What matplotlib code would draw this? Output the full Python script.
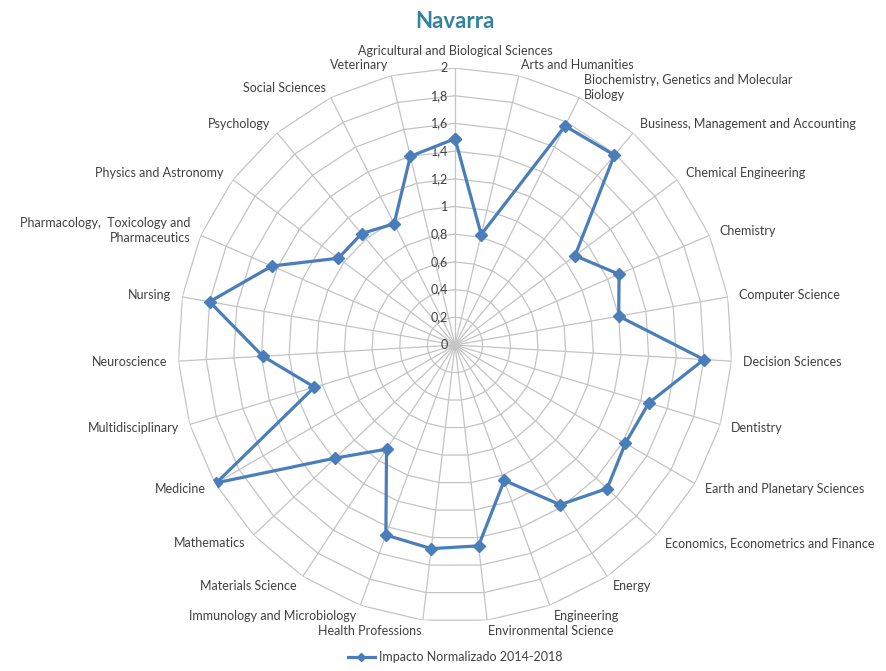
import matplotlib
matplotlib.use("Agg")
import matplotlib.pyplot as plt
import numpy as np

categories = [
    "Agricultural and Biological Sciences",
    "Arts and Humanities",
    "Biochemistry, Genetics and Molecular\nBiology",
    "Business, Management and Accounting",
    "Chemical Engineering",
    "Chemistry",
    "Computer Science",
    "Decision Sciences",
    "Dentistry",
    "Earth and Planetary Sciences",
    "Economics, Econometrics and Finance",
    "Energy",
    "Engineering",
    "Environmental Science",
    "Health Professions",
    "Immunology and Microbiology",
    "Materials Science",
    "Mathematics",
    "Medicine",
    "Multidisciplinary",
    "Neuroscience",
    "Nursing",
    "Pharmacology,  Toxicology and\nPharmaceutics",
    "Physics and Astronomy",
    "Psychology",
    "Social Sciences",
    "Veterinary",
]
impacto = [1.49, 0.82, 1.77, 1.79, 1.08, 1.29, 1.20, 1.80, 1.46, 1.42,
           1.51, 1.38, 1.04, 1.46, 1.48, 1.46, 0.90, 1.19, 1.99, 1.06,
           1.39, 1.80, 1.44, 1.05, 1.05, 0.98, 1.40]
ticks = [0, 0.2, 0.4, 0.6, 0.8, 1, 1.2, 1.4, 1.6, 1.8, 2]
tick_labels = ["0", "0,2", "0,4", "0,6", "0,8", "1", "1,2", "1,4", "1,6", "1,8", "2"]
series_name = "Impacto Normalizado 2014-2018"

plt.rcParams["font.family"] = ["Lato", "DejaVu Sans"]

n = len(categories)
theta = np.arange(n) * 2 * np.pi / n

fig = plt.figure(figsize=(8.87, 6.71), dpi=100)
ax = fig.add_axes([0.2007, 0.073, 0.6246, 0.8256], projection="polar")
ax.set_theta_zero_location("N")
ax.set_theta_direction(-1)
ax.set_ylim(0, 2)
ax.grid(False)
ax.spines["polar"].set_visible(False)
ax.set_xticks([])
ax.set_yticks([])

grid_col = "#c4c4c4"
# polygon rings (Excel style radar grid)
ring_theta = np.append(theta, theta[0])
for t in ticks[1:]:
    ax.plot(ring_theta, [t] * (n + 1), color=grid_col, lw=0.9, zorder=1)
# spokes
for th in theta:
    ax.plot([th, th], [0, 2], color=grid_col, lw=0.9, zorder=1)

# radial tick labels along the top spoke
for t, lab in zip(ticks, tick_labels):
    ax.annotate(lab, xy=(0, t), xytext=(-5, 0), textcoords="offset points",
                ha="right", va="center", fontsize=9, color="#404040")

# category labels
for th, cat in zip(theta, categories):
    s = np.sin(th)
    if s > 0.01:
        ha = "left"
    elif s < -0.01:
        ha = "right"
    else:
        ha = "center"
    va = "bottom" if abs(th) < 1e-6 else "center"
    ax.text(th, 2.08, cat, ha=ha, va=va, fontsize=9, color="#404040",
            linespacing=1.3)

vals = np.append(impacto, impacto[0])
ax.plot(ring_theta, vals, color="#4a7ebb", lw=2.3, marker="D", markersize=6,
        label=series_name, zorder=3)

fig.text(0.513, 0.968, "Navarra", ha="center", va="center", fontsize=16,
         fontweight="bold", color="#31849b")

fig.legend(loc="lower center", bbox_to_anchor=(0.513, -0.005), frameon=False,
           fontsize=9, handlelength=2.2, markerscale=0.75, labelcolor="#404040",
           handletextpad=0.3)

fig.savefig("out.png", dpi=100, facecolor="white")
